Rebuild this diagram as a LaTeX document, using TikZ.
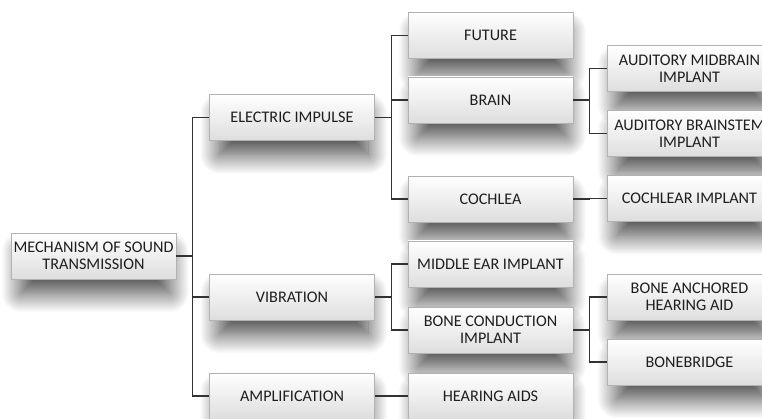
\documentclass[tikz,border=0pt]{standalone}
\usepackage{fontspec}
\setmainfont{Carlito}
\usetikzlibrary{shadows.blur}
\definecolor{boxtext}{RGB}{30,30,30}
\definecolor{linkgray}{RGB}{50,50,50}

\begin{document}
\begin{tikzpicture}[x=1pt,y=-1pt,
		box/.style={rectangle, minimum width=165pt, minimum height=46pt, inner sep=0pt,
			top color=white, bottom color=black!13, draw=black!30, line width=0.6pt,
			blur shadow={shadow xshift=2pt, shadow yshift=-18pt, shadow scale=0.9,
				shadow blur radius=22pt, shadow blur steps=40, shadow opacity=75},
			text=boxtext, align=center, font=\fontsize{16.2}{17}\selectfont},
		link/.style={draw=linkgray, line width=1.3pt}]
		\useasboundingbox (0,0) rectangle (762,419);
		\clip (0,0) rectangle (762,419);

		% root
		\node[box] (mech) at (93.5,256) {MECHANISM OF SOUND\\TRANSMISSION};

		% kinds of signal
		\node[box] (elec) at (292,117.5) {ELECTRIC IMPULSE};
		\node[box] (vib) at (292,297) {VIBRATION};
		\node[box] (amp) at (292,396) {AMPLIFICATION};

		% where it goes
		\node[box] (fut) at (490.5,35.5) {FUTURE};
		\node[box] (brain) at (490.5,100) {BRAIN};
		\node[box] (coch) at (490.5,199) {COCHLEA};
		\node[box] (mei) at (490.5,264) {MIDDLE EAR IMPLANT};
		\node[box] (bci) at (490.5,330) {BONE CONDUCTION\\IMPLANT};
		\node[box] (aids) at (490.5,396) {HEARING AIDS};

		% devices
		\node[box] (ami) at (689.5,68.5) {AUDITORY MIDBRAIN\\IMPLANT};
		\node[box] (abi) at (689.5,133.5) {AUDITORY BRAINSTEM\\IMPLANT};
		\node[box] (ci) at (689.5,198.5) {COCHLEAR IMPLANT};
		\node[box] (baha) at (689.5,297) {BONE ANCHORED\\HEARING AID};
		\node[box] (bb) at (689.5,362) {BONEBRIDGE};

		% elbows
		\foreach \p/\c in {mech/elec,mech/vib,mech/amp,elec/fut,elec/brain,elec/coch,
			vib/mei,vib/bci,amp/aids,brain/ami,brain/abi,coch/ci,bci/baha,bci/bb}
			\draw[link] (\p.east) -- ++(16.5,0) |- (\c.west);
	\end{tikzpicture}
\end{document}
